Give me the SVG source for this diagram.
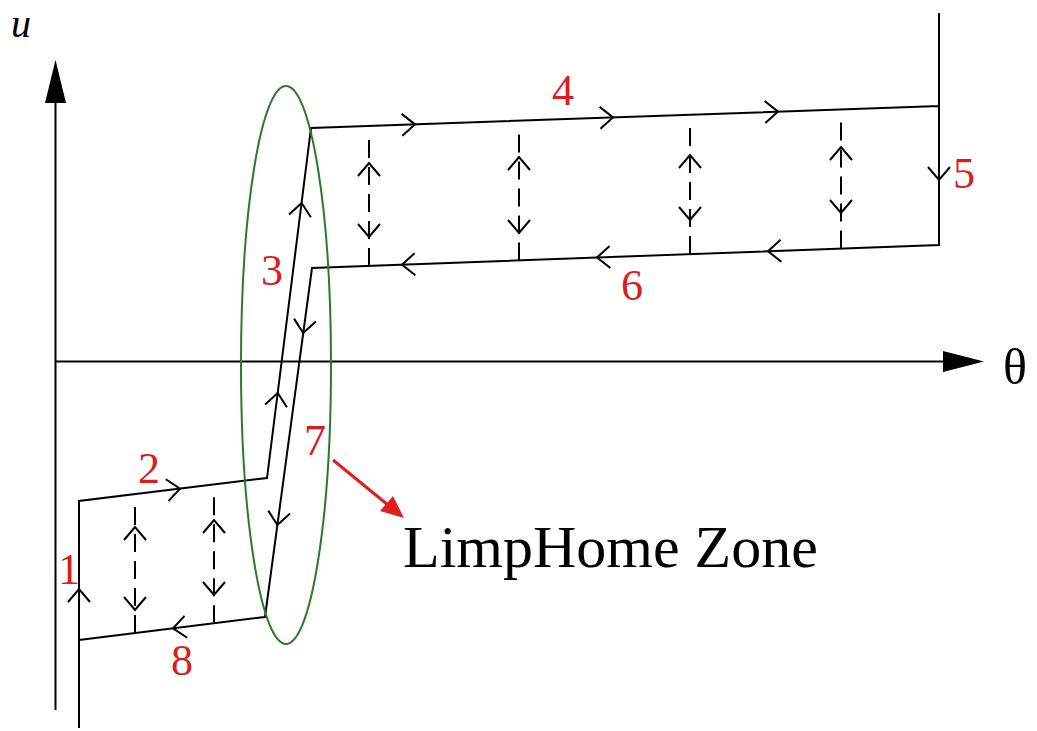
<svg xmlns="http://www.w3.org/2000/svg" xmlns:xlink="http://www.w3.org/1999/xlink" width="1037" height="731" viewBox="0 0 1037 731">
<style>
.ln{fill:none;stroke:#000;stroke-width:2;stroke-linejoin:miter}
.ds{fill:none;stroke:#000;stroke-width:2;stroke-dasharray:18 9}
.ch{fill:none;stroke:#000;stroke-width:2}
.num{font-family:"Liberation Serif","Times New Roman",serif;font-size:44px;fill:#d91e1e;text-anchor:middle}
.lab{font-family:"Liberation Serif","Times New Roman",serif;fill:#000}
</style>
<defs>
<path id="chev" class="ch" d="M-13,-11 L0,0 L-13,11"/>
</defs>
<rect width="1037" height="731" fill="#fff"/>
<g id="axes">
<line class="ln" x1="55.5" y1="710" x2="55.5" y2="100"/>
<polygon points="55.5,60 45,103 66,103" fill="#000"/>
<line class="ln" x1="55.5" y1="361.5" x2="946" y2="361.5"/>
<polygon points="984,361.5 943,351 943,372" fill="#000"/>
<text class="lab" x="11" y="37" font-size="40" font-style="italic">u</text>
<text class="lab" x="1015" y="384" font-size="50" text-anchor="middle">θ</text>
</g>
<g id="connectors">
<path id="loop" class="ln" d="M79,728 L79,501 L267,478 L311,128 L939,106 M939,13 L939,245 L312,268 L265,617 L79,640"/>
<g id="dashes">
<line class="ds" x1="369" y1="265.9" x2="369" y2="137"/>
<line class="ds" x1="519" y1="260.4" x2="519" y2="130"/>
<line class="ds" x1="690" y1="254.1" x2="690" y2="126"/>
<line class="ds" x1="841" y1="248.6" x2="841" y2="120"/>
<line class="ds" x1="135" y1="633" x2="135" y2="505"/>
<line class="ds" x1="214" y1="623.3" x2="214" y2="492"/>
</g>
<g id="chevrons">
<use xlink:href="#chev" transform="translate(79,589) rotate(-90)"/>
<use xlink:href="#chev" transform="translate(180,488.6) rotate(-7)"/>
<use xlink:href="#chev" transform="translate(301.6,203) rotate(-82.8)"/>
<use xlink:href="#chev" transform="translate(277.7,393) rotate(-82.8)"/>
<use xlink:href="#chev" transform="translate(415,124.4) rotate(-2)"/>
<use xlink:href="#chev" transform="translate(613,117.4) rotate(-2)"/>
<use xlink:href="#chev" transform="translate(778,111.6) rotate(-2)"/>
<use xlink:href="#chev" transform="translate(939,180) rotate(90)"/>
<use xlink:href="#chev" transform="translate(768,251.3) rotate(177.9)"/>
<use xlink:href="#chev" transform="translate(597,257.5) rotate(177.9)"/>
<use xlink:href="#chev" transform="translate(402,264.7) rotate(177.9)"/>
<use xlink:href="#chev" transform="translate(303.2,333) rotate(97.7)"/>
<use xlink:href="#chev" transform="translate(277.4,525) rotate(97.7)"/>
<use xlink:href="#chev" transform="translate(173,628.4) rotate(173)"/>
<use xlink:href="#chev" transform="translate(369,163) rotate(-90)"/>
<use xlink:href="#chev" transform="translate(369,237) rotate(90)"/>
<use xlink:href="#chev" transform="translate(519,157) rotate(-90)"/>
<use xlink:href="#chev" transform="translate(519,233) rotate(90)"/>
<use xlink:href="#chev" transform="translate(690,155) rotate(-90)"/>
<use xlink:href="#chev" transform="translate(690,220) rotate(90)"/>
<use xlink:href="#chev" transform="translate(841,147) rotate(-90)"/>
<use xlink:href="#chev" transform="translate(841,213) rotate(90)"/>
<use xlink:href="#chev" transform="translate(135,527) rotate(-90)"/>
<use xlink:href="#chev" transform="translate(135,610) rotate(90)"/>
<use xlink:href="#chev" transform="translate(214,520) rotate(-90)"/>
<use xlink:href="#chev" transform="translate(214,595) rotate(90)"/>
</g>
<g id="pointer">
<line x1="333" y1="460" x2="388" y2="505" stroke="#e01e1e" stroke-width="3"/>
<polygon points="404,518 380,511 393,496" fill="#e01e1e"/>
</g>
</g>
<g id="limphome-zone">
<ellipse cx="286" cy="365" rx="45" ry="279" fill="none" stroke="#2a7a2a" stroke-width="2"/>
<text class="lab" x="403" y="567" font-size="60">LimpHome Zone</text>
</g>
<g id="labels">
<text class="num" x="69" y="584">1</text>
<text class="num" x="149" y="483">2</text>
<text class="num" x="272" y="285">3</text>
<text class="num" x="563" y="105">4</text>
<text class="num" x="964" y="188">5</text>
<text class="num" x="632" y="300">6</text>
<text class="num" x="315" y="455">7</text>
<text class="num" x="182" y="675">8</text>
</g>
</svg>
